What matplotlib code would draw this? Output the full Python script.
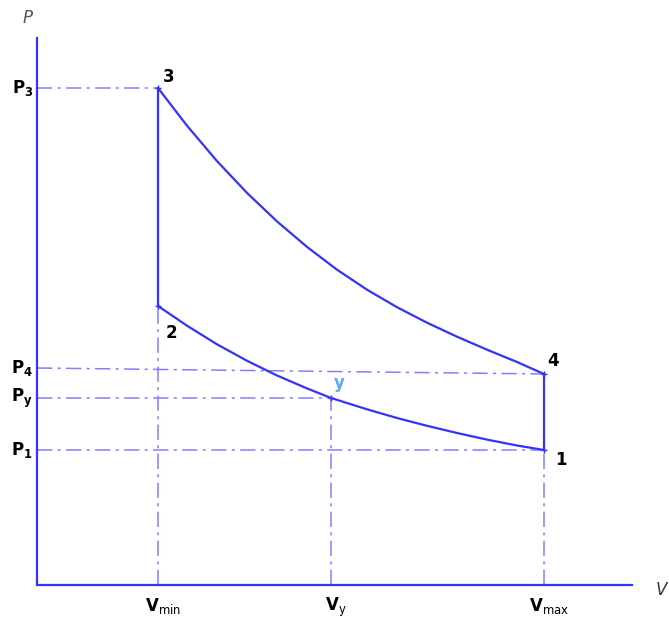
import matplotlib
matplotlib.use("Agg")
import matplotlib.pyplot as plt

# Data (arbitrary units)
V_min, V_y, V_max = 121, 294, 507
P3, P2, P4, P4_tick, P_y, P1 = 497, 279, 211, 217, 187, 135

exp_V = [121, 150, 180, 210, 240, 270, 300, 330, 360, 390, 420, 450, 480, 507]
exp_P = [497, 459.3, 423.9, 392.1, 363.6, 338.1, 315.3, 295.3, 277.8, 262.3, 248.3, 235.3, 223.0, 211]
comp_V = [121, 150, 180, 210, 240, 270, 294, 330, 360, 390, 420, 450, 480, 507]
comp_P = [279, 259.3, 240.7, 224.2, 209.5, 196.6, 187, 175.7, 167, 159.2, 152, 145.4, 139.5, 135]

tick_labels_P = [r"$\mathbf{P_3}$", r"$\mathbf{P_4}$", r"$\mathbf{P_y}$", r"$\mathbf{P_1}$"]
tick_labels_V = [r"$\mathbf{V}_{\rm min}$", r"$\mathbf{V}_{\rm y}$", r"$\mathbf{V}_{\rm max}$"]

blue = "#3333ff"
light = "#8080ff"

fig = plt.figure(figsize=(6.69, 6.19), dpi=100)
ax = fig.add_axes([37/669, 34/619, 595/669, 547/619])
ax.set_xlim(0, 595)
ax.set_ylim(0, 547)
for s in ["top", "right"]:
    ax.spines[s].set_visible(False)
for s in ["left", "bottom"]:
    ax.spines[s].set_color(blue)
    ax.spines[s].set_linewidth(1.6)
ax.set_xticks([])
ax.set_yticks([])

dash = dict(color=light, lw=1.1, ls=(0, (10, 3.5, 2, 3.5)))
# horizontal guides
ax.plot([0, V_min], [P3, P3], **dash)
ax.plot([0, V_max], [P4_tick, P4], **dash)
ax.plot([0, V_y], [P_y, P_y], **dash)
ax.plot([0, V_max], [P1, P1], **dash)
# vertical guides
ax.plot([V_min, V_min], [0, P2], **dash)
ax.plot([V_y, V_y], [0, P_y], **dash)
ax.plot([V_max, V_max], [0, P1], **dash)

# cycle
ax.plot([V_min, V_min], [P2, P3], color=blue, lw=1.6)
ax.plot(exp_V, exp_P, color=blue, lw=1.6)
ax.plot([V_max, V_max], [P4, P1], color=blue, lw=1.6)
ax.plot(comp_V, comp_P, color=blue, lw=1.6)

ax.plot([V_min, V_min, V_max, V_max, V_y], [P3, P2, P4, P1, P_y], ls="none",
        marker="+", ms=4, color=blue, mew=1)

# tick labels
for lab, yv in zip(tick_labels_P, [P3, P4_tick, P_y, P1]):
    ax.text(-4, yv, lab, ha="right", va="center", fontsize=12, color="black")
for lab, xv in zip(tick_labels_V, [V_min, V_y, V_max]):
    ax.text(xv + 5, -11, lab, ha="center", va="top", fontsize=12, color="black")

# point labels
ax.text(V_min + 5, P3 + 2, "3", fontsize=12, fontweight="bold", va="bottom")
ax.text(V_min + 8, P2 - 18, "2", fontsize=12, fontweight="bold", va="top")
ax.text(V_max + 3, P4 + 4, "4", fontsize=12, fontweight="bold", va="bottom")
ax.text(V_max + 11, P1 - 1, "1", fontsize=12, fontweight="bold", va="top")
ax.text(V_y + 3, P_y + 6, "y", fontsize=12, fontweight="bold", color="#5aaaf0", va="bottom")

# axis names
fig.text(28/669, 1 - 18/619, "P", fontsize=12, style="italic", color="#555555",
         ha="center", va="center")
fig.text(656/669, 1 - 590/619, "V", fontsize=12, style="italic", color="#333333",
         ha="left", va="center")

fig.savefig("out.png", dpi=100)
